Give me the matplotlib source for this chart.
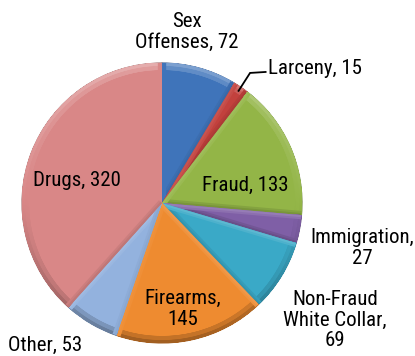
import numpy as np
import matplotlib
matplotlib.use("Agg")
import matplotlib.pyplot as plt
import matplotlib.colors as mcolors
from matplotlib.collections import LineCollection

categories = ["Sex\nOffenses", "Larceny", "Fraud", "Immigration",
              "Non-Fraud\nWhite Collar", "Firearms", "Other", "Drugs"]
counts = [72, 15, 133, 27, 69, 145, 53, 320]
separators = [", ", ", ", ", ", ",\n", ",\n", ",\n", ", ", ", "]
colors = ["#3F74BA", "#C2413D", "#93B547", "#7F5FA6",
          "#3AA9C7", "#EE8B30", "#93B2DE", "#D98787"]

# label anchor points (data units, pie radius = 1)
label_pos = [(0.18, 1.22), (0.757, 0.964), (0.593, 0.129), (1.43, -0.32),
             (1.236, -0.836), (0.15, -0.757), (-0.836, -1.014), (-0.607, 0.164)]
label_ha = ["center", "left", "center", "center",
            "center", "center", "center", "center"]

plt.rcParams["font.family"] = ["Roboto Condensed", "Archivo Narrow", "DejaVu Sans"]

fig = plt.figure(figsize=(4.15, 3.56), dpi=100)
ax = fig.add_axes([22 / 415, 13 / 356, 280 / 415, 280 / 356])

wedges, _ = ax.pie(counts, colors=colors, startangle=90, counterclock=False,
                   radius=1.0, wedgeprops=dict(linewidth=0))
ax.set_xlim(-1, 1)
ax.set_ylim(-1, 1)
ax.set_aspect("equal")
ax.axis("off")


def shade(color, f):
    c = np.array(mcolors.to_rgb(color))
    if f >= 0:
        return tuple(c + (1 - c) * f)
    return tuple(c * (1 + f))


# bevel: rim bands lit from above, clipped to each wedge
for w, col in zip(wedges, colors):
    t1, t2 = w.theta1, w.theta2
    angs = np.radians(np.linspace(t1, t2, max(int(t2 - t1) * 2, 4)))
    pts = np.column_stack([np.cos(angs), np.sin(angs)])
    segs = np.stack([pts[:-1], pts[1:]], axis=1)
    mids = 0.5 * (angs[:-1] + angs[1:])
    for lw, k in ((10, 0.18), (4, 0.32)):
        cols = [shade(col, k * np.sin(m)) for m in mids]
        lc = LineCollection(segs, colors=cols, linewidths=lw, capstyle="round")
        ax.add_collection(lc)
        lc.set_clip_path(w)
    for t, nrm in ((t1, t1 - 90), (t2, t2 + 90)):
        tr = np.radians(t)
        f = np.sin(np.radians(nrm))
        for lw, k in ((6, 0.1), (3, 0.18)):
            ln, = ax.plot([0, np.cos(tr)], [0, np.sin(tr)],
                          color=shade(col, k * f), lw=lw, solid_capstyle="butt")
            ln.set_clip_path(w)
    w.set_edgecolor(shade(col, -0.3))
    w.set_linewidth(0.8)
    w.set_zorder(1)

# labels
for name, val, sep, (x, y), ha in zip(categories, counts, separators, label_pos, label_ha):
    ax.text(x, y, f"{name}{sep}{val}", ha=ha, va="center", multialignment="center",
            fontsize=15, color="black", clip_on=False, linespacing=1.12)

# leader line for the thin slice
lar = wedges[1]
mid = np.radians(0.5 * (lar.theta1 + lar.theta2))
ax.plot([0.97 * np.cos(mid), 0.629, 0.74], [0.97 * np.sin(mid), 0.929, 0.936],
        color="black", lw=1.3, clip_on=False, solid_joinstyle="miter")

fig.savefig("out.png", dpi=100, facecolor="white")
